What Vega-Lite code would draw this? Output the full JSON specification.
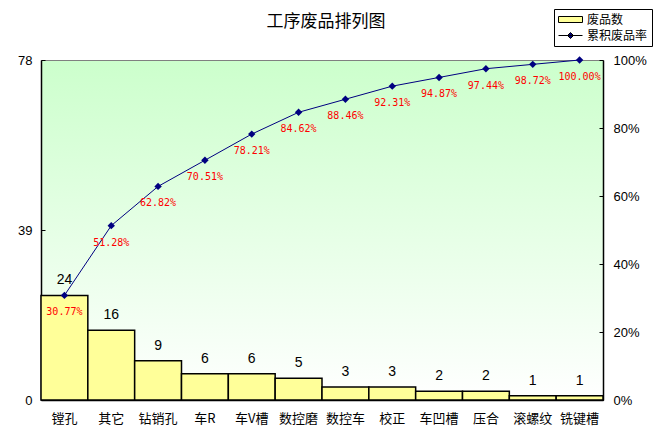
{
  "$schema": "https://vega.github.io/schema/vega-lite/v6.json",
  "autosize": {"type": "none"},
  "width": 562,
  "height": 340,
  "padding": {"left": 41, "top": 60, "right": 50, "bottom": 43},
  "background": "white",
  "title": {
    "text": "工序废品排列图",
    "font": "Noto Sans CJK SC",
    "fontSize": 17,
    "fontWeight": "normal",
    "color": "black",
    "offset": 0,
    "dy": 22,
    "dx": 4,
    "frame": "group"
  },
  "data": {
    "values": [
      {"工序": "镗孔", "废品数": 24, "累积": 0.3077},
      {"工序": "其它", "废品数": 16, "累积": 0.5128},
      {"工序": "钻销孔", "废品数": 9, "累积": 0.6282},
      {"工序": "车R", "废品数": 6, "累积": 0.7051},
      {"工序": "车V槽", "废品数": 6, "累积": 0.7821},
      {"工序": "数控磨", "废品数": 5, "累积": 0.8462},
      {"工序": "数控车", "废品数": 3, "累积": 0.8846},
      {"工序": "校正", "废品数": 3, "累积": 0.9231},
      {"工序": "车凹槽", "废品数": 2, "累积": 0.9487},
      {"工序": "压合", "废品数": 2, "累积": 0.9744},
      {"工序": "滚螺纹", "废品数": 1, "累积": 0.9872},
      {"工序": "铣键槽", "废品数": 1, "累积": 1.0}
    ]
  },
  "encoding": {
    "x": {
      "field": "工序",
      "type": "nominal",
      "sort": null,
      "title": null,
      "scale": {"paddingInner": 0, "paddingOuter": 0},
      "axis": {
        "labelAngle": 0,
        "ticks": false,
        "labelPadding": 12,
        "labelFont": "Noto Sans CJK SC",
        "labelFontSize": 13,
        "labelColor": "black",
        "domainColor": "black",
        "domainWidth": 1.5
      }
    }
  },
  "layer": [
    {
      "encoding": {
        "y": {
          "field": "废品数",
          "type": "quantitative",
          "title": null,
          "scale": {"domain": [0, 78], "nice": false},
          "axis": {
            "orient": "left",
            "values": [0, 39, 78],
            "grid": false,
            "tickSize": -4,
            "labelPadding": 13,
            "labelFont": "Liberation Sans",
            "labelFontSize": 13,
            "labelColor": "black",
            "domainColor": "black",
            "tickColor": "black",
            "domainWidth": 1.5
          }
        }
      },
      "layer": [
        {
          "mark": {"type": "bar", "stroke": "black", "strokeWidth": 1.5},
          "encoding": {
            "color": {
              "datum": "废品数",
              "scale": {"domain": ["废品数", "累积废品率"], "range": ["#ffff99", "#000080"]},
              "legend": {
                "title": null,
                "orient": "none",
                "legendX": 513,
                "legendY": -51,
                "strokeColor": "black",
                "fillColor": "white",
                "padding": 4,
                "labelFont": "Noto Sans CJK SC",
                "labelFontSize": 12,
                "labelColor": "black",
                "symbolOffset": 6,
                "labelOffset": 10,
                "rowPadding": 3,
                "symbolSize": 144,
                "symbolStrokeWidth": 1,
                "symbolType": {"expr": "datum.value === '废品数' ? 'M-2,-0.5H2V0.5H-2Z' : 'M-2,0H2M-0.5,0L0,-0.5L0.5,0L0,0.5Z'"},
                "encode": {
                  "symbols": {
                    "stroke": {
                      "condition": {"test": "datum.value === '废品数'", "value": "black"},
                      "value": "#000080"
                    },
                    "opacity": {"value": 1}
                  }
                }
              }
            }
          }
        },
        {
          "mark": {"type": "text", "dy": -15, "font": "Liberation Sans", "fontSize": 14, "color": "black"},
          "encoding": {"text": {"field": "废品数", "type": "quantitative"}}
        }
      ]
    },
    {
      "encoding": {
        "y": {
          "field": "累积",
          "type": "quantitative",
          "title": null,
          "scale": {"domain": [0, 1], "nice": false},
          "axis": {
            "orient": "right",
            "format": "%",
            "values": [0, 0.2, 0.4, 0.6, 0.8, 1],
            "grid": false,
            "tickSize": -4,
            "labelPadding": 14,
            "labelFont": "Liberation Sans",
            "labelFontSize": 13,
            "labelColor": "black",
            "domainColor": "black",
            "tickColor": "black",
            "domainWidth": 1.5
          }
        }
      },
      "layer": [
        {
          "mark": {
            "type": "line",
            "color": "#000080",
            "strokeWidth": 1,
            "point": {"shape": "diamond", "filled": true, "size": 55, "color": "#000080"}
          },
          "encoding": {}
        },
        {
          "mark": {"type": "text", "dy": 17, "font": "DejaVu Sans Mono", "fontSize": 10, "color": "#ff0000"},
          "encoding": {"text": {"field": "累积", "type": "quantitative", "format": ".2%"}}
        }
      ]
    }
  ],
  "resolve": {"scale": {"y": "independent"}},
  "config": {
    "view": {
      "stroke": "#808080",
      "fill": {
        "gradient": "linear",
        "x1": 0, "y1": 0, "x2": 0, "y2": 1,
        "stops": [
          {"offset": 0, "color": "#ccffcc"},
          {"offset": 1, "color": "#ffffff"}
        ]
      }
    }
  }
}
